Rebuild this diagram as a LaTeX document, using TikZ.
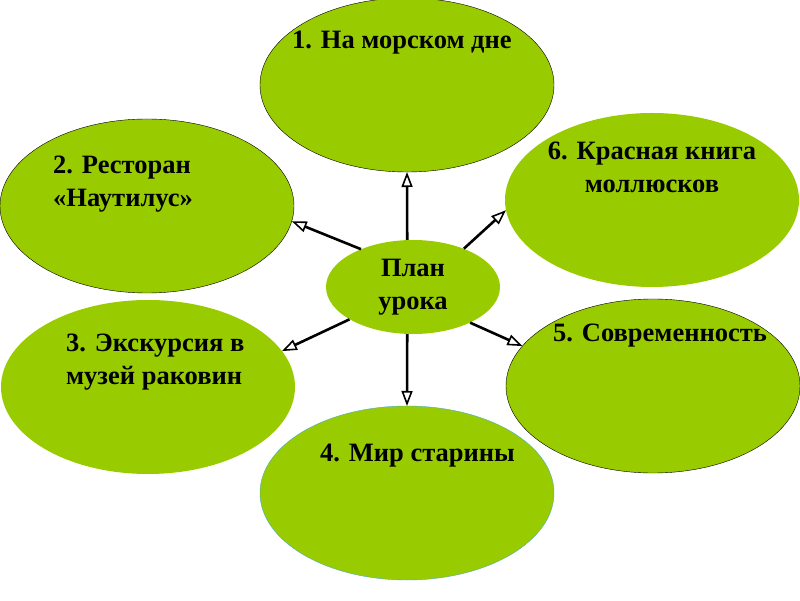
\documentclass[tikz,border=0pt]{standalone}
\usepackage{fontspec}
\setmainfont{Liberation Serif}
\usetikzlibrary{shapes.geometric,arrows.meta}
\definecolor{leaf}{HTML}{99CC00}
\definecolor{rim}{HTML}{4BACC6}
\begin{document}
\begin{tikzpicture}[
    x=1pt, y=1pt,
    bubble/.style={ellipse, fill=leaf, inner sep=0pt, outer sep=0pt,
        minimum width=294pt, minimum height=174pt},
    lbl/.style={font=\fontsize{26.5}{33}\selectfont\bfseries, inner sep=0pt},
    link/.style={line width=2.6pt, -{Triangle[open, length=15pt, width=11pt, line width=1.6pt]}}
]
    \useasboundingbox (0,0) rectangle (800,600);

    % Ellipses
    \node[bubble, draw=black] (e1) at (407,515) {};
    \node[bubble, draw=black] (e2) at (147,394) {};
    \node[bubble] (e3) at (148,213) {};
    \node[bubble, draw=rim] (e4) at (407,107) {};
    \node[bubble, draw=black] (e5) at (653,214) {};
    \node[bubble] (e6) at (652,400) {};

    % Centre
    \node[ellipse, fill=leaf, inner sep=0pt, minimum width=174pt, minimum height=94pt,
        lbl, align=center] (c) at (413,313) {План\\урока};

    % Labels (base = last line)
    \node[lbl, anchor=base west] (t1) at (292,551) {1. На морском дне};
    \node[lbl, anchor=base west, align=left] (t2) at (53,393) {2. Ресторан\\«Наутилус»};
    \node[lbl, anchor=base west, align=left] (t3) at (66,215) {3. Экскурсия в\\музей раковин};
    \node[lbl, anchor=base west] (t4) at (320,139) {4. Мир старины};
    \node[lbl, anchor=base west] (t5) at (553,258) {5. Современность};
    \node[lbl, anchor=base, align=center] (t6) at (652,407) {6. Красная книга\\моллюсков};

    % Arrows
    \draw[link] (c.97) -- (e1.270);
    \draw[link] (c.144) -- (e2.354);
    \draw[link] (c.207) -- (e3.15);
    \draw[link] (c.263) -- (e4.90);
    \draw[link] (c.328) -- (e5.163);
    \draw[link] (c.37) -- (e6.184);
\end{tikzpicture}
\end{document}
